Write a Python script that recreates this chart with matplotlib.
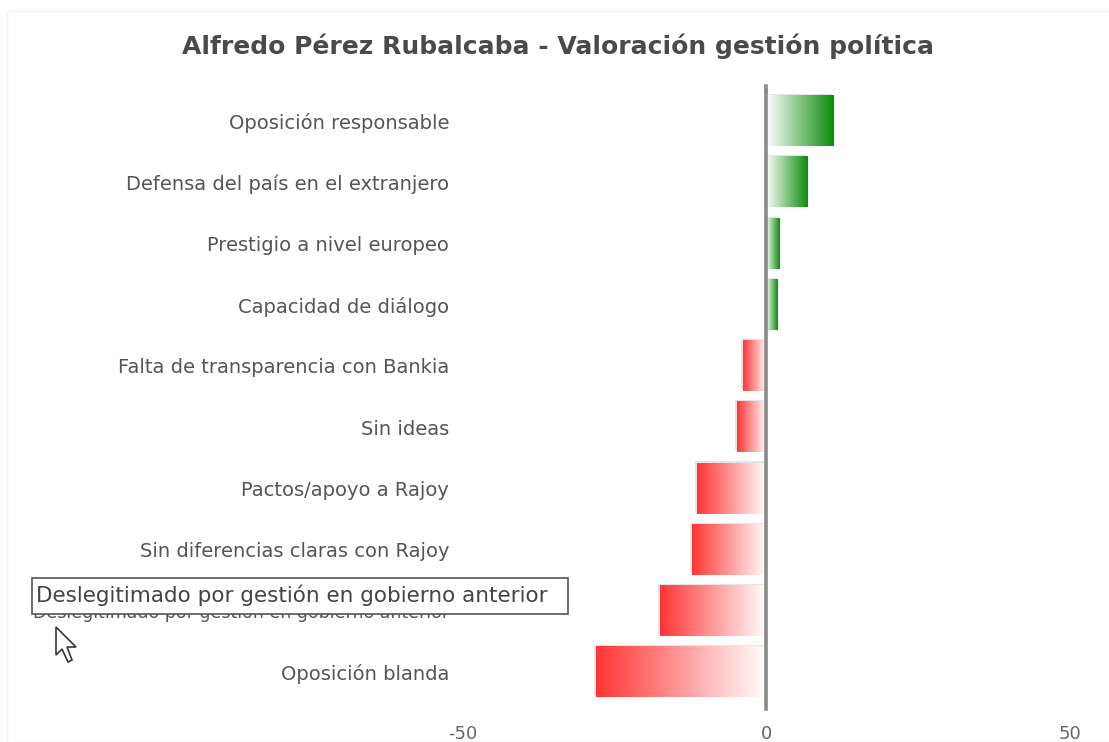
import numpy as np
import matplotlib
matplotlib.use("Agg")
import matplotlib.pyplot as plt
from matplotlib.colors import LinearSegmentedColormap
from matplotlib.patches import Rectangle, Polygon

# --- Data ---
categories = [
    "Oposición responsable",
    "Defensa del país en el extranjero",
    "Prestigio a nivel europeo",
    "Capacidad de diálogo",
    "Falta de transparencia con Bankia",
    "Sin ideas",
    "Pactos/apoyo a Rajoy",
    "Sin diferencias claras con Rajoy",
    "Deslegitimado por gestión en gobierno anterior",
    "Oposición blanda",
]
values = [11.1, 6.8, 2.3, 1.9, -3.8, -4.9, -11.5, -12.2, -17.5, -28.1]
xticks = [-50, 0, 50]
tooltip = "Deslegitimado por gestión en gobierno anterior"

title = "Alfredo Pérez Rubalcaba - Valoración gestión política"

# --- Plot ---
W, H = 1109, 742
fig = plt.figure(figsize=(W / 100, H / 100), dpi=100)
ax = fig.add_axes([0.4175, 0.053, 0.5473, 0.825])

green = LinearSegmentedColormap.from_list("g", ["#ffffff", "#0a8c0a"])
red = LinearSegmentedColormap.from_list("r", ["#ffffff", "#ff3535"])
grad = np.linspace(0, 1, 256).reshape(1, -1)

n = len(categories)
h = 0.82
for i, v in enumerate(values):
    y = n - 1 - i
    # soft shadow, up-left of the bar
    ax.add_patch(Rectangle((min(0, v) - 0.35, y - h / 2 + 0.03), abs(v), h,
                           facecolor="#aaaaaa", alpha=0.3, edgecolor="none", zorder=1))
    cmap = green if v > 0 else red
    ax.imshow(grad, cmap=cmap, aspect="auto", extent=[0, v, y - h / 2, y + h / 2],
              zorder=2, interpolation="bilinear")

ax.set_xlim(-50, 50)
ax.set_ylim(-0.5, n - 0.5)
ax.axvline(0, color="#8a8a8a", lw=2.6, zorder=3, ymin=-0.01, clip_on=False)
ax.plot([0, 0], [n - 0.5, n - 0.42], color="#8a8a8a", lw=2.6, clip_on=False)

ax.set_yticks(range(n))
ax.set_yticklabels(categories[::-1], fontsize=14, color="#555555")
# the long label sits under the tooltip; keep it inside the figure
for lab in ax.get_yticklabels():
    if len(lab.get_text()) > 40:
        lab.set_fontsize(12.5)
ax.set_xticks(xticks)
ax.set_xticklabels([str(t) for t in xticks], fontsize=13, color="#666666")
ax.tick_params(axis="y", length=0, pad=10)
ax.tick_params(axis="x", length=0, pad=16)
for s in ax.spines.values():
    s.set_visible(False)

fig.text(0.503, 0.938, title, ha="center", va="center", fontsize=18,
         fontweight="bold", color="#4a4a4a")

# tooltip box over the label
fig.patches.append(Rectangle((32 / W, 1 - 614 / H), 536 / W, 36 / H,
                             transform=fig.transFigure, facecolor="white",
                             edgecolor="#555555", lw=1.2, zorder=10))
fig.text(36 / W, 1 - 595 / H, tooltip, ha="left", va="center", fontsize=15.5,
         color="#444444", zorder=11)

# mouse cursor
pts = [(56, 627), (56, 655), (62, 649), (68, 662), (72, 660), (67, 647), (76, 647)]
fig.patches.append(Polygon([(x / W, 1 - y / H) for x, y in pts], closed=True,
                           transform=fig.transFigure, facecolor="white",
                           edgecolor="#333344", lw=1.2, zorder=11))

# faint outer border
fig.patches.append(Rectangle((7 / W, 0), 1.2, 1 - 11 / H, transform=fig.transFigure,
                             facecolor="none", edgecolor="#f2f2f2", lw=1))

fig.savefig("out.png", dpi=100)
